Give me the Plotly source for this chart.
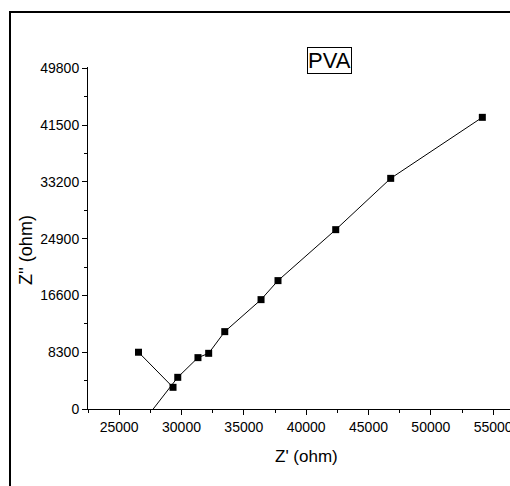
import plotly.graph_objects as go

# Data (Z' real, Z'' imaginary), None = break in the connecting line
z_real = [26550, 29320, None, 25600, 29700, 31320, 32180, 33470, 36380, 37740, 42370, 46780, 54130]
z_imag = [8300, 3170, None, -5000, 4630, 7510, 8140, 11310, 15990, 18770, 26220, 33720, 42640]

y_ticks = [0, 8300, 16600, 24900, 33200, 41500, 49800]
x_ticks = [25000, 30000, 35000, 40000, 45000, 50000, 55000]
x_minor = [22500, 27500, 32500, 37500, 42500, 47500, 52500]

FONT = "Arial, Liberation Sans, sans-serif"

W, H = 510, 486
ML, MT, MB, MR = 88, 67, 77, 0
pw, ph = W - ML - MR, H - MT - MB

def px_to_paper_x(px):
    return (px - ML) / pw

def px_to_paper_y(py):
    return (H - MB - py) / ph

fig = go.Figure()
fig.add_trace(go.Scatter(
    x=z_real, y=z_imag, mode="lines+markers",
    line=dict(color="black", width=1),
    marker=dict(symbol="square", size=7, color="black"),
    connectgaps=False, showlegend=False,
))

axis_common = dict(
    showgrid=False, zeroline=False, showline=True, linecolor="black", linewidth=1,
    ticks="outside", ticklen=5, tickwidth=1, tickcolor="black",
    tickfont=dict(family=FONT, size=14, color="black"),
    ticklabeloverflow="allow",
)

fig.update_xaxes(
    range=[22500, 22500 + pw / 0.012467],
    tickvals=x_ticks, ticktext=[str(v) for v in x_ticks],
    minor=dict(tickvals=x_minor, ticks="outside", ticklen=3, tickcolor="black"),
    **axis_common,
)
fig.update_yaxes(
    range=[0, 50000],
    tickvals=y_ticks, ticktext=[str(v) for v in y_ticks],
    minor=dict(dtick=4150, tick0=0, ticks="outside", ticklen=3, tickcolor="black"),
    **axis_common,
)

fig.update_layout(
    width=W, height=H,
    margin=dict(l=ML, r=MR, t=MT, b=MB, autoexpand=False),
    paper_bgcolor="white", plot_bgcolor="white",
    font=dict(family=FONT, color="black"),
    annotations=[
        dict(text="Z' (ohm)", xref="paper", yref="paper",
             x=px_to_paper_x(306.5), y=px_to_paper_y(456.5),
             xanchor="center", yanchor="middle", showarrow=False,
             font=dict(family=FONT, size=17, color="black")),
        dict(text="Z'' (ohm)", xref="paper", yref="paper",
             x=px_to_paper_x(26), y=px_to_paper_y(250),
             xanchor="center", yanchor="middle", showarrow=False, textangle=-90,
             font=dict(family=FONT, size=18, color="black")),
        dict(text="PVA", xref="paper", yref="paper",
             x=px_to_paper_x(329), y=px_to_paper_y(61),
             xanchor="center", yanchor="middle", showarrow=False,
             bordercolor="black", borderwidth=1, borderpad=0,
             font=dict(family=FONT, size=22, color="black")),
    ],
    shapes=[
        dict(type="rect", xref="paper", yref="paper",
             x0=px_to_paper_x(10), y0=px_to_paper_y(520),
             x1=px_to_paper_x(560), y1=px_to_paper_y(12),
             line=dict(color="black", width=2), fillcolor="rgba(0,0,0,0)", layer="above"),
    ],
)

fig.write_html("out.html")
